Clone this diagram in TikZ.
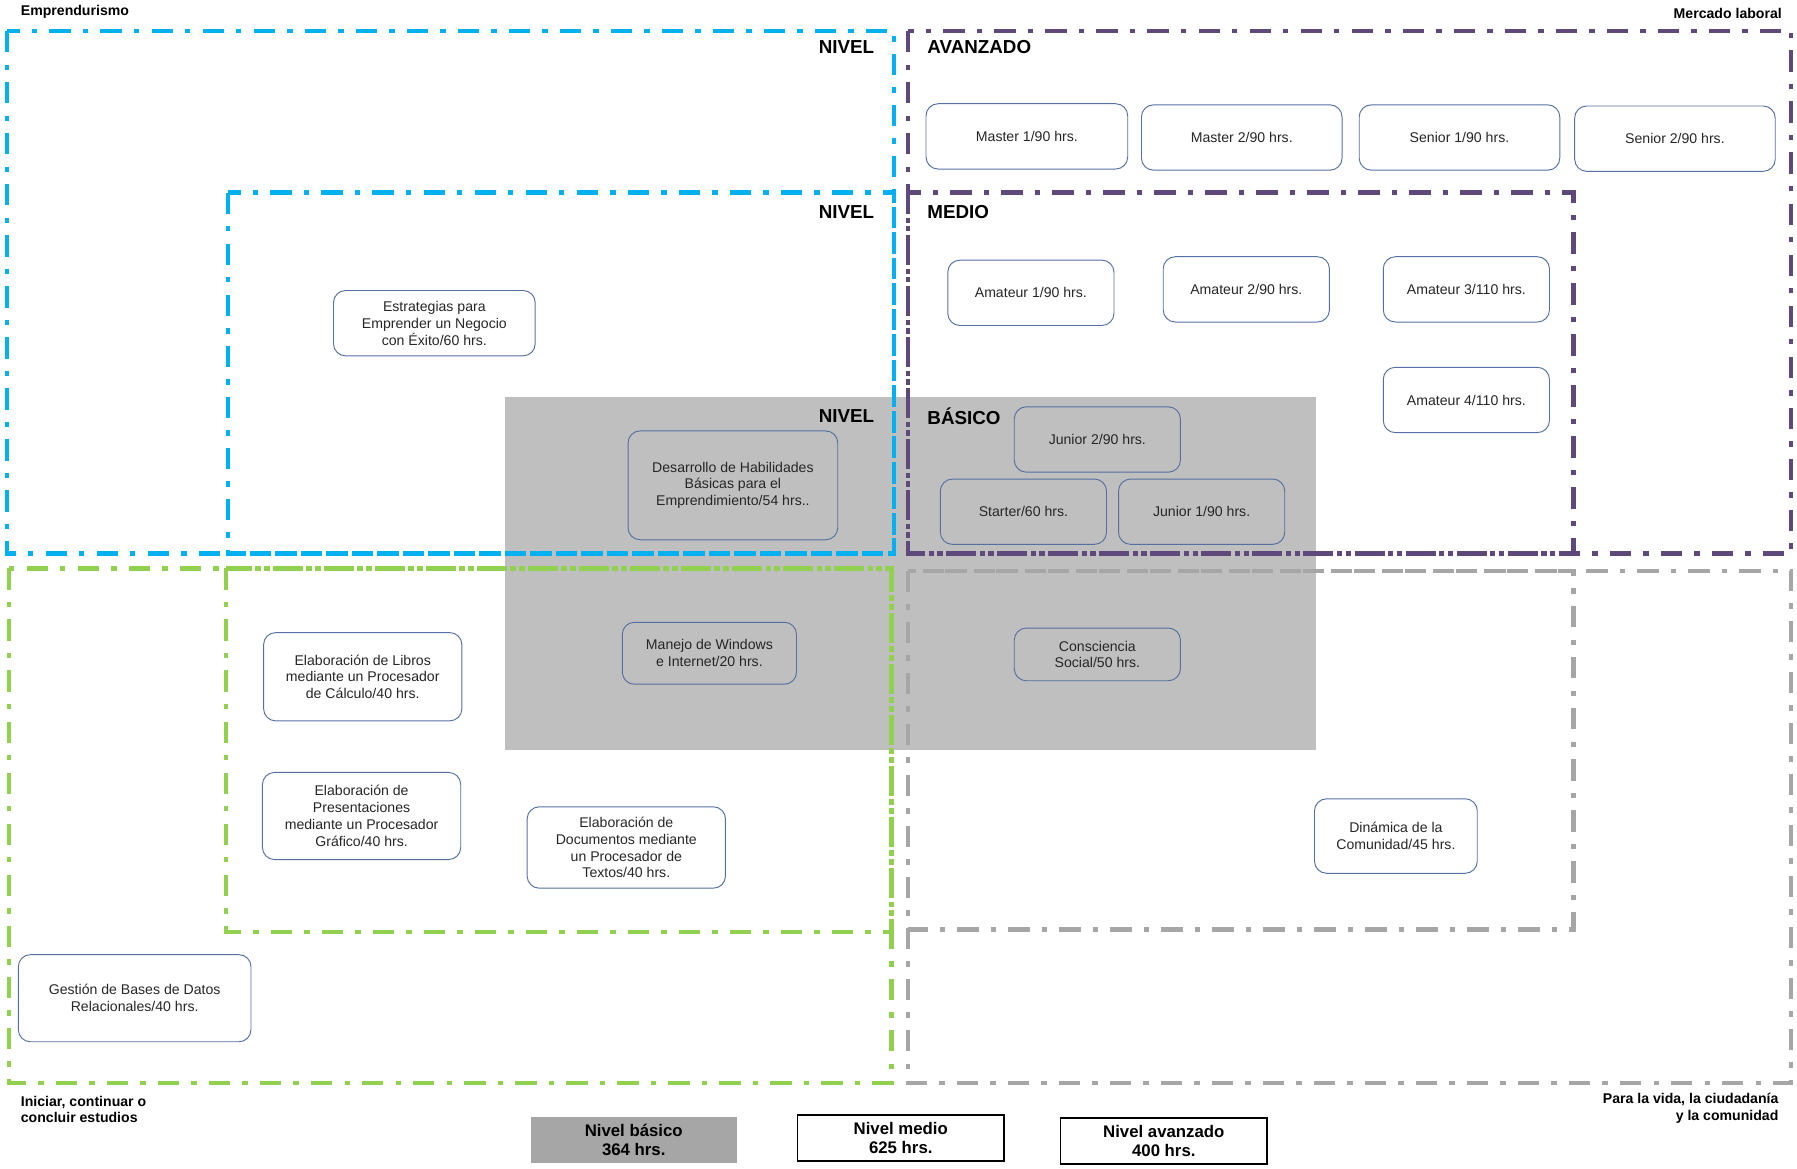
\documentclass[tikz,border=0pt]{standalone}
\usepackage{fontspec}
\setmainfont{Liberation Sans}
\usetikzlibrary{positioning}
\definecolor{emprendeblue}{RGB}{0,176,240}
\definecolor{laboralpurple}{RGB}{95,73,122}
\definecolor{estudiosgreen}{RGB}{146,208,80}
\definecolor{vidagray}{RGB}{166,166,166}
\definecolor{basicofill}{RGB}{191,191,191}
\definecolor{cursoline}{RGB}{84,112,160}

\begin{document}
\begin{tikzpicture}[x=0.03cm, y=-0.03cm,
    zona/.style={line width=3.2pt, dash pattern=on 16pt off 9pt on 4pt off 9pt},
    curso/.style={rounded corners=9pt, draw=cursoline, line width=0.7pt,
                  text=black!85, font=\fontsize{10.5}{12.5}\selectfont,
                  align=center, inner sep=2pt,
                  minimum width=4.35cm, minimum height=1.71cm},
    nivel/.style={font=\fontsize{14}{16}\selectfont\bfseries, inner sep=0pt},
    meta/.style={font=\fontsize{10.5}{12.5}\selectfont\bfseries, inner sep=0pt},
    total/.style={font=\fontsize{12.5}{14}\selectfont\bfseries, align=center,
                  minimum width=5.4cm, minimum height=1.2cm, inner sep=0pt},
  ]
    \useasboundingbox (0,0) rectangle (1568,1020);
    % nivel basico (fondo gris)
    \fill[basicofill] (441,346) rectangle (1148,654);
    % zonas
    \draw[zona, emprendeblue]  (6,27)    rectangle (780,483);
    \draw[zona, emprendeblue]  (199,168) rectangle (780,483);
    \draw[zona, laboralpurple] (792,27)  rectangle (1563,483);
    \draw[zona, laboralpurple] (792,168) rectangle (1373,483);
    \draw[zona, estudiosgreen] (8,496)   rectangle (778,945);
    \draw[zona, estudiosgreen] (197,496) rectangle (778,813);
    \draw[zona, vidagray]      (792,498) rectangle (1563,945);
    \draw[zona, vidagray]      (792,498) rectangle (1373,811);
    \foreach \y/\t/\n in {41/AVANZADO/A, 185/MEDIO/M, 363/BÁSICO/B} {
      \node[nivel, anchor=east] (nivel\n) at (763,\y) {NIVEL};
      \node[nivel, anchor=west] (titulo\n) at (809,\y) {\t};
    }
    \node[meta, anchor=west] (emprende) at (18,10) {Emprendurismo};
    \node[meta, anchor=east] (mercado) at (1555,12) {Mercado laboral};
    \node[meta, anchor=north west, align=left] (estudios) at (18,956)
      {Iniciar, continuar o\\concluir estudios};
    \node[meta, anchor=north east, align=right] (vida) at (1552,954)
      {Para la vida, la ciudadanía\\y la comunidad};
    % avanzado
    \node[curso, minimum width=5.28cm] (master1) at (896,119)    {Master 1/90 hrs.};
    \node[curso, minimum width=5.25cm] (master2) at (1083.5,120) {Master 2/90 hrs.};
    \node[curso, minimum width=5.25cm] (senior1) at (1273.5,120) {Senior 1/90 hrs.};
    \node[curso, minimum width=5.25cm] (senior2) at (1461.5,121) {Senior 2/90 hrs.};
    % medio
    \node[curso] (amateur1) at (899.5,255.5)  {Amateur 1/90 hrs.};
    \node[curso] (amateur2) at (1087.5,252.5) {Amateur 2/90 hrs.};
    \node[curso] (amateur3) at (1279.5,252.5) {Amateur 3/110 hrs.};
    \node[curso] (amateur4) at (1279.5,349)   {Amateur 4/110 hrs.};
    \node[curso, minimum width=5.28cm] (estrategias) at (379,282)
      {Estrategias para\\Emprender un Negocio\\con Éxito/60 hrs.};
    % basico
    \node[curso] (junior2) at (957.5,383.5) {Junior 2/90 hrs.};
    \node[curso] (starter) at (893,446.5)   {Starter/60 hrs.};
    \node[curso] (junior1) at (1048.5,446.5) {Junior 1/90 hrs.};
    \node[curso, minimum width=5.49cm, minimum height=2.85cm] (desarrollo) at (639.5,423.5)
      {Desarrollo de Habilidades\\Básicas para el\\Emprendimiento/54 hrs..};
    \node[curso, minimum width=4.56cm, minimum height=1.62cm] (manejo) at (619,570)
      {Manejo de Windows\\e Internet/20 hrs.};
    \node[curso, minimum height=1.38cm] (consciencia) at (957.5,571)
      {Consciencia\\Social/50 hrs.};
    % estudios y vida
    \node[curso, minimum width=5.19cm, minimum height=2.31cm] (libros) at (316.5,590.5)
      {Elaboración de Libros\\mediante un Procesador\\de Cálculo/40 hrs.};
    \node[curso, minimum width=5.19cm, minimum height=2.28cm] (presentaciones) at (315.5,712)
      {Elaboración de\\Presentaciones\\mediante un Procesador\\Gráfico/40 hrs.};
    \node[curso, minimum width=5.19cm, minimum height=2.13cm] (documentos) at (546.5,739.5)
      {Elaboración de\\Documentos mediante\\un Procesador de\\Textos/40 hrs.};
    \node[curso, minimum width=6.09cm, minimum height=2.28cm] (gestion) at (117.5,871)
      {Gestión de Bases de Datos\\Relacionales/40 hrs.};
    \node[curso, minimum width=4.26cm, minimum height=1.95cm] (dinamica) at (1218,729.5)
      {Dinámica de la\\Comunidad/45 hrs.};
    % totales por nivel
    \node[total, fill=vidagray] (totalB) at (553,995) {Nivel básico\\364 hrs.};
    \node[total, draw=black, line width=1.2pt] (totalM) at (786,993) {Nivel medio\\625 hrs.};
    \node[total, draw=black, line width=1.2pt] (totalA) at (1015.5,995.5) {Nivel avanzado\\400 hrs.};
  \end{tikzpicture}
\end{document}
